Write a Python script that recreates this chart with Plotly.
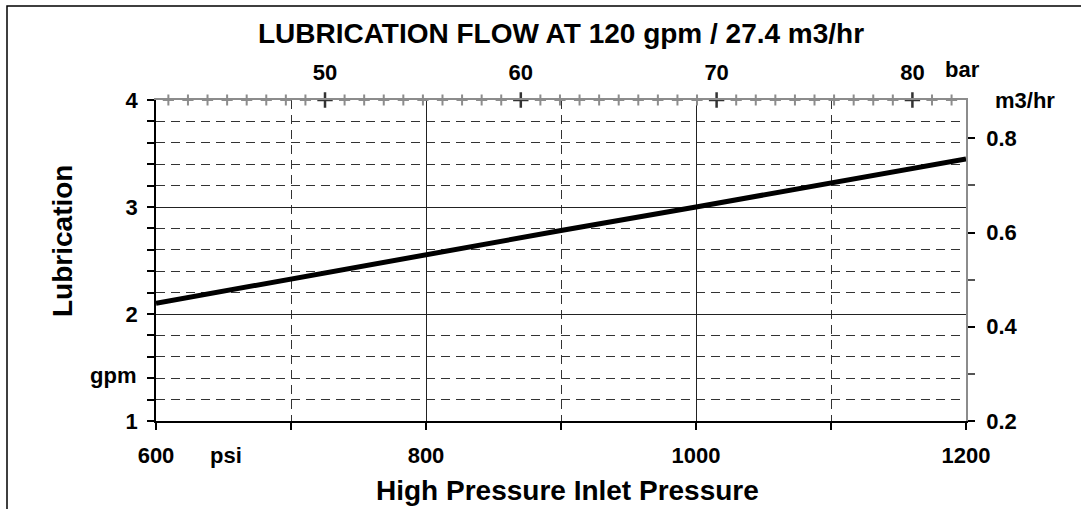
import plotly.graph_objects as go

# ---- data ----
pressure_psi = [600, 700, 800, 900, 1000, 1100, 1200]
lube_gpm = [2.10, 2.33, 2.55, 2.78, 3.00, 3.23, 3.45]

x_tick_vals = [600, 800, 1000, 1200]
x_tick_text = ["600", "800", "1000", "1200"]
bar_major = [50, 60, 70, 80]
bar_minor = [b for b in range(42, 83) if b not in bar_major]
m3_tick_vals = [0.2, 0.4, 0.6, 0.8]
gpm_tick_vals = [1, 2, 3, 4]

PSI_PER_BAR = 14.5038
M3HR_PER_GPM = 0.22712

FONT = "Liberation Sans, Arial, sans-serif"

# layout geometry (px)
W, H = 1081, 509
L, R, T, B = 156, 966, 100, 421
def px(x):
    return (x - L) / (R - L)
def py(y):
    return (B - y) / (B - T)

fig = go.Figure()

# main curve
fig.add_trace(go.Scatter(
    x=pressure_psi, y=lube_gpm, mode="lines",
    line=dict(color="black", width=5), xaxis="x", yaxis="y",
    showlegend=False, hoverinfo="skip"))

# bar axis crosses along top
fig.add_trace(go.Scatter(
    x=bar_minor, y=[4] * len(bar_minor), mode="markers",
    marker=dict(symbol="cross-thin", size=8, line=dict(color="#8c8c8c", width=2)),
    xaxis="x2", yaxis="y", cliponaxis=False, showlegend=False, hoverinfo="skip"))
fig.add_trace(go.Scatter(
    x=bar_major, y=[4] * len(bar_major), mode="markers",
    marker=dict(symbol="cross-thin", size=11, line=dict(color="#333333", width=2.5)),
    xaxis="x2", yaxis="y", cliponaxis=False, showlegend=False, hoverinfo="skip"))

tickfont = dict(family=FONT, size=22, color="black", weight="bold")
dash = "9px,6px"

fig.update_layout(
    width=W, height=H,
    margin=dict(l=L, r=W - R, t=T, b=H - B, pad=0),
    paper_bgcolor="white", plot_bgcolor="white",
    title=dict(text="LUBRICATION FLOW AT 120 gpm / 27.4 m3/hr",
               font=dict(family=FONT, size=28, color="black", weight="bold"),
               x=0.5, xref="paper", xanchor="center",
               y=1 - 33 / H, yref="container", yanchor="middle"),
    xaxis=dict(range=[600, 1200], tickmode="array", tickvals=x_tick_vals, ticktext=x_tick_text,
               ticks="outside", ticklen=7, tickwidth=1.5, tickcolor="black",
               showline=True, linecolor="black", linewidth=1.5,
               showgrid=True, gridcolor="#222222", gridwidth=1,
               minor=dict(dtick=100, tick0=600, ticks="outside", ticklen=7, tickcolor="black",
                          showgrid=True, gridcolor="#333333", griddash=dash, gridwidth=1),
               tickfont=tickfont, ticklabelstandoff=7, zeroline=False),
    xaxis2=dict(range=[600 / PSI_PER_BAR, 1200 / PSI_PER_BAR], overlaying="x", side="top",
                tickmode="array", tickvals=bar_major, ticks="",
                showline=True, linecolor="#8c8c8c", linewidth=1.5, showgrid=False,
                tickfont=tickfont, ticklabelstandoff=9, zeroline=False),
    yaxis=dict(range=[1, 4], tickmode="array", tickvals=gpm_tick_vals,
               ticks="outside", ticklen=7, tickwidth=1.5, tickcolor="black",
               showline=True, linecolor="black", linewidth=1.5,
               showgrid=True, gridcolor="#222222", gridwidth=1,
               minor=dict(dtick=0.2, tick0=1, ticks="outside", ticklen=7, tickcolor="black",
                          showgrid=True, gridcolor="#333333", griddash=dash, gridwidth=1),
               tickfont=tickfont, ticklabelstandoff=5, zeroline=False),
    yaxis2=dict(range=[0.2, 0.2 + 3 * M3HR_PER_GPM], overlaying="y", side="right",
                tickmode="array", tickvals=m3_tick_vals,
                ticks="outside", ticklen=7, tickwidth=1.5, tickcolor="black",
                showline=True, linecolor="#8c8c8c", linewidth=1.5, showgrid=False,
                minor=dict(dtick=0.1, tick0=0.2, ticks="outside", ticklen=7, tickcolor="#555555"),
                tickfont=tickfont, ticklabelstandoff=7, zeroline=False),
    showlegend=False,
)

# dummy trace so yaxis2 is shown
fig.add_trace(go.Scatter(x=[None], y=[None], xaxis="x", yaxis="y2", showlegend=False))

afont = dict(family=FONT, size=22, color="black", weight="bold")
bigfont = dict(family=FONT, size=28, color="black", weight="bold")
ann = [
    dict(text="High Pressure Inlet Pressure", x=px(567), y=py(490), font=bigfont,
         xanchor="center", yanchor="middle"),
    dict(text="Lubrication", x=px(62), y=py(241), font=bigfont, textangle=-90,
         xanchor="center", yanchor="middle"),
    dict(text="psi", x=px(226), y=py(456), font=afont, xanchor="center", yanchor="middle"),
    dict(text="gpm", x=px(138), y=py(375), font=afont, xanchor="right", yanchor="middle"),
    dict(text="bar", x=px(962), y=py(69), font=afont, xanchor="center", yanchor="middle"),
    dict(text="m3/hr", x=px(993), y=py(100), font=afont, xanchor="left", yanchor="middle"),
]
for a in ann:
    fig.add_annotation(xref="paper", yref="paper", showarrow=False, **a)

fig.add_shape(type="rect", xref="paper", yref="paper",
              x0=px(7), x1=px(1090), y0=py(520), y1=py(6),
              line=dict(color="black", width=1.5), layer="above")

fig.write_html("out.html", config={"displayModeBar": False},
               post_script="document.body.style.margin='0';")
